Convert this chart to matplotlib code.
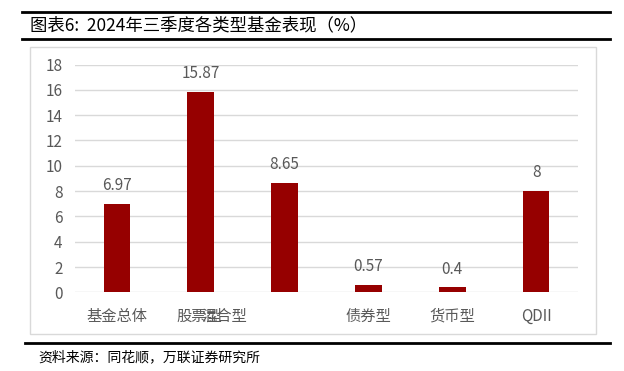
import numpy as np
import matplotlib.pyplot as plt
from matplotlib.lines import Line2D
from matplotlib.patches import Rectangle

plt.rcParams['font.family'] = ['Noto Sans CJK SC', 'DejaVu Sans']

# data
categories = ["基金总体", "股票型", "混合型", "债券型", "货币型", "QDII"]
values = [6.97, 15.87, 8.65, 0.57, 0.4, 8]
value_labels = ["6.97", "15.87", "8.65", "0.57", "0.4", "8"]
# the source chart has the x labels shifted: 股票型 and 混合型 overlap, nothing under bar 3
label_pos = [0, 0.98, 1.28, 3, 4, 5]

fig = plt.figure(figsize=(6.24, 3.71), dpi=100)

# title lines and text
fig.add_artist(Line2D([22/624, 610/624], [1-12/371, 1-12/371], color="black", lw=2))
fig.add_artist(Line2D([22/624, 610/624], [1-39/371, 1-39/371], color="black", lw=2))
fig.text(30/624, 1-25/371, "图表6:  2024年三季度各类型基金表现（%）", fontsize=12.5,
         va="center", ha="left", color="black")

# chart frame
fig.add_artist(Rectangle((30/624, 1-334/371), 566/624, 287/371, fill=False,
                         edgecolor="#d9d9d9", lw=1, transform=fig.transFigure))

# source line
fig.add_artist(Line2D([25/624, 610/624], [1-343/371, 1-343/371], color="black", lw=2))
fig.text(38/624, 1-357/371, "资料来源：同花顺，万联证券研究所", fontsize=10, style="italic",
         va="center", ha="left", color="black")

ax = fig.add_axes([75/624, 0.212, 503/624, 0.614])
x = np.arange(len(categories))
ax.bar(x, values, width=0.32, color="#960000", zorder=3)
for xi, v, s in zip(x, values, value_labels):
    ax.annotate(s, (xi, v), xytext=(0, 7), textcoords="offset points",
                ha="center", va="bottom", fontsize=11, color="#595959")

ax.set_xlim(-0.5, 5.5)
ax.set_ylim(0, 18)
ax.set_yticks(np.arange(0, 19, 2))
ax.yaxis.grid(True, color="#d9d9d9", lw=1, zorder=0)
ax.set_xticks(label_pos)
ax.set_xticklabels(categories, fontsize=11, color="#595959")
ax.tick_params(axis="x", length=0, pad=11)
ax.tick_params(axis="y", length=0, pad=9, labelsize=11, labelcolor="#595959")
for s in ax.spines.values():
    s.set_visible(False)

plt.savefig("out.png", dpi=100)
